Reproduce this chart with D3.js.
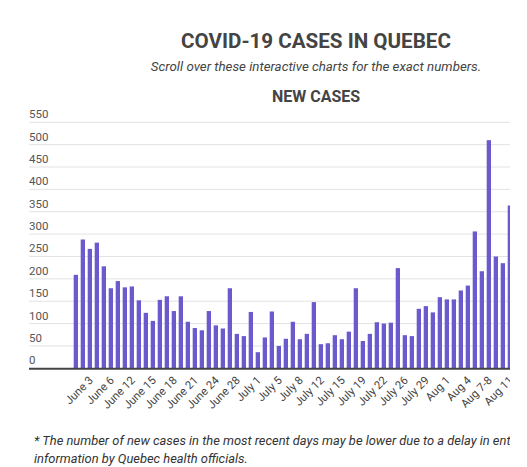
<!DOCTYPE html>
<html>
<head>
<meta charset="utf-8">
<script src="https://cdn.jsdelivr.net/npm/d3@7"></script>
<style>
  body { margin: 0; background: #fff; font-family: Roboto, sans-serif; }
  #chart { width: 510px; height: 467px; overflow: hidden; }
</style>
</head>
<body>
<div id="chart"></div>
<script>
// categories (only every third one is labelled on the axis)
var dates = [
  "June 1", "June 2", "June 3", "June 4", "June 5", "June 6", "June 9", "June 10", "June 12", "June 13",
  "June 14", "June 15", "June 16", "June 17", "June 18", "June 19", "June 20", "June 21", "June 22", "June 23",
  "June 24", "June 25", "June 26", "June 28", "June 29", "June 30", "July 1", "July 2", "July 3", "July 5",
  "July 6", "July 7", "July 8", "July 9", "July 10", "July 12", "July 13", "July 14", "July 15", "July 16",
  "July 17", "July 19", "July 20", "July 21", "July 22", "July 23", "July 24", "July 26", "July 27", "July 28",
  "July 29", "July 30", "July 31", "Aug 1", "Aug 2", "Aug 3", "Aug 4", "Aug 5", "Aug 6", "Aug 7-8",
  "Aug 9", "Aug 10", "Aug 11"
];

var newCases = [
  209, 288, 267, 281, 228, 179, 195, 181, 183, 152,
  124, 106, 153, 161, 128, 161, 104, 90, 85, 128,
  96, 89, 179, 77, 72, 126, 36, 69, 127, 50,
  66, 104, 65, 77, 148, 54, 56, 74, 65, 82,
  179, 61, 77, 103, 100, 102, 224, 74, 72, 133,
  139, 125, 159, 154, 154, 174, 185, 306, 217, 510,
  250, 235, 364
];

var yTicks = [0, 50, 100, 150, 200, 250, 300, 350, 400, 450, 500, 550];

var svgWidth = 510;
var svgHeight = 467;

var svg = d3.select("#chart")
  .append("svg")
  .attr("width", svgWidth)
  .attr("height", svgHeight);

// titles (centred on the full, wider original container)
var centerX = 316;

svg.append("text")
  .attr("x", centerX)
  .attr("y", 48)
  .attr("text-anchor", "middle")
  .attr("font-size", "20.6px")
  .attr("font-weight", "bold")
  .attr("fill", "#444")
  .text("COVID-19 CASES IN QUEBEC");

svg.append("text")
  .attr("x", centerX)
  .attr("y", 71)
  .attr("text-anchor", "middle")
  .attr("font-size", "13.3px")
  .attr("font-style", "italic")
  .attr("fill", "#444")
  .text("Scroll over these interactive charts for the exact numbers.");

svg.append("text")
  .attr("x", centerX)
  .attr("y", 102)
  .attr("text-anchor", "middle")
  .attr("font-size", "16px")
  .attr("font-weight", "bold")
  .attr("fill", "#444")
  .text("NEW CASES");

// scales
var plotLeft = 29;
var plotRight = 520;
var yBottom = 368.3;
var yTop = 122.3;

var xScale = d3.scaleBand()
  .domain(dates)
  .range([73.7, 512])
  .paddingInner(0.386)
  .paddingOuter(0);

var yScale = d3.scaleLinear()
  .domain([0, 550])
  .range([yBottom, yTop]);

// gridlines + y labels
var grid = svg.append("g").classed("grid", true);

grid.selectAll("line")
  .data(yTicks.filter(d => d > 0))
  .enter()
  .append("line")
  .attr("x1", plotLeft)
  .attr("x2", plotRight)
  .attr("y1", d => yScale(d))
  .attr("y2", d => yScale(d))
  .attr("stroke", "#e3e3e3")
  .attr("stroke-width", 1);

grid.selectAll("text")
  .data(yTicks)
  .enter()
  .append("text")
  .attr("x", plotLeft)
  .attr("y", d => yScale(d) - 4)
  .attr("font-size", "11.5px")
  .attr("fill", "#555")
  .text(d => d);

// bars
svg.append("g")
  .selectAll("rect")
  .data(newCases)
  .enter()
  .append("rect")
  .attr("x", (d, i) => xScale(dates[i]))
  .attr("y", d => yScale(d))
  .attr("width", xScale.bandwidth())
  .attr("height", d => yBottom - yScale(d))
  .attr("fill", "#6a5acd");

// baseline
svg.append("line")
  .attr("x1", plotLeft)
  .attr("x2", plotRight)
  .attr("y1", yBottom + 0.5)
  .attr("y2", yBottom + 0.5)
  .attr("stroke", "#444")
  .attr("stroke-width", 2);

// x labels, every third category
var shown = dates.filter((d, i) => i % 3 === 2);

svg.append("g")
  .selectAll("text")
  .data(shown)
  .enter()
  .append("text")
  .attr("transform", d => `translate(${xScale(d) + xScale.bandwidth() / 2 + 1}, ${yBottom + 10}) rotate(-45)`)
  .attr("text-anchor", "end")
  .attr("dy", "0.35em")
  .attr("font-size", "11.3px")
  .attr("fill", "#444")
  .text(d => d);

// footnote
var note = svg.append("text")
  .attr("x", 34)
  .attr("y", 445)
  .attr("font-size", "12.9px")
  .attr("font-style", "italic")
  .attr("fill", "#333");

note.append("tspan")
  .attr("x", 34)
  .text("* The number of new cases in the most recent days may be lower due to a delay in entering");

note.append("tspan")
  .attr("x", 34)
  .attr("dy", 17.5)
  .text("information by Quebec health officials.");
</script>
</body>
</html>
